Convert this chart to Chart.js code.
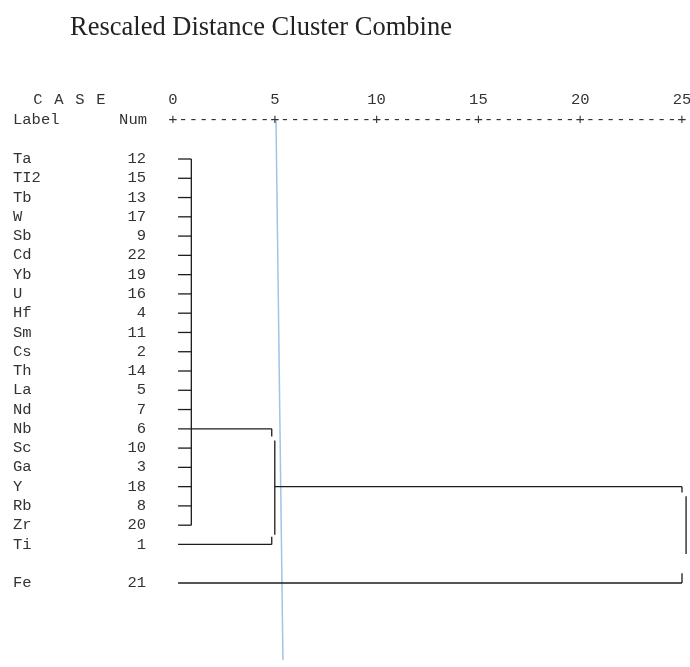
<!DOCTYPE html>
<html>
<head>
<meta charset="utf-8">
<script src="https://cdn.jsdelivr.net/npm/chart.js@4/dist/chart.umd.min.js"></script>
<style>
  html, body { margin: 0; padding: 0; background: #fff; }
  #wrap { width: 690px; height: 667px; }
</style>
</head>
<body>
<div id="wrap"><canvas id="dendro"></canvas></div>
<script>
// cases, top to bottom
const caseLabels = ["Ta", "TI2", "Tb", "W", "Sb", "Cd", "Yb", "U", "Hf", "Sm", "Cs",
  "Th", "La", "Nd", "Nb", "Sc", "Ga", "Y", "Rb", "Zr", "Ti", "Fe"];
const caseNums = [12, 15, 13, 17, 9, 22, 19, 16, 4, 11, 2, 14, 5, 7, 6, 10, 3, 18, 8, 20, 1, 21];
// row of each case (blank row before Fe)
const caseRows = [0, 1, 2, 3, 4, 5, 6, 7, 8, 9, 10, 11, 12, 13, 14, 15, 16, 17, 18, 19, 20, 22];
const distTicks = [0, 5, 10, 15, 20, 25];

// rescaled distances where clusters join
const leafStart = 0.25;
const joinDist = [0.9, 4.85, 25];   // first big cluster, + Ti, + Fe
const joinRow = [14, 17, 22];       // row the joined branch leaves from

// hand-drawn cut line (x distance, row)
const cutX = [5.06, 5.4];
const cutRow = [-2, 26];

const INK = "#1c1c1c";
const MONO = "15.5px 'Liberation Mono', 'DejaVu Sans Mono', monospace";

function seg(x1, y1, x2, y2, color, width) {
  return {
    data: [{ x: x1, y: y1 }, { x: x2, y: y2 }],
    showLine: true,
    borderColor: color || INK,
    borderWidth: width || 1.3,
    pointRadius: 0,
    clip: false
  };
}

const datasets = [];
const firstCluster = caseRows.slice(0, 20);
// leaves of the first cluster
firstCluster.forEach((r) => {
  if (r !== joinRow[0]) datasets.push(seg(leafStart, r, joinDist[0], r));
});
datasets.push(seg(joinDist[0], firstCluster[0], joinDist[0], firstCluster[firstCluster.length - 1]));

// first cluster + Ti
const tiRow = caseRows[20];
datasets.push(seg(leafStart, joinRow[0], joinDist[1], joinRow[0]));
datasets.push(seg(leafStart, tiRow, joinDist[1], tiRow));
datasets.push(seg(joinDist[1], joinRow[0], joinDist[1], joinRow[0] + 0.4));
datasets.push(seg(joinDist[1], tiRow, joinDist[1], tiRow - 0.4));
datasets.push(seg(joinDist[1] + 0.15, joinRow[0] + 0.6, joinDist[1] + 0.15, tiRow - 0.5));

// everything + Fe
const feRow = caseRows[21];
datasets.push(seg(joinDist[1] + 0.15, joinRow[1], joinDist[2], joinRow[1]));
datasets.push(seg(leafStart, feRow, joinDist[2], feRow));
datasets.push(seg(joinDist[2], joinRow[1], joinDist[2], joinRow[1] + 0.3));
datasets.push(seg(joinDist[2], feRow, joinDist[2], feRow - 0.5));
datasets.push(seg(joinDist[2] + 0.2, joinRow[1] + 0.5, joinDist[2] + 0.2, feRow - 1.5));

// cut line
datasets.push(seg(cutX[0], cutRow[0], cutX[1], cutRow[1], "#9fc4e6", 1.5));

// header, axis and case labels
const textPlugin = {
  id: "dendroText",
  afterDraw(chart) {
    const ctx = chart.ctx;
    const xs = chart.scales.x;
    const ys = chart.scales.y;
    ctx.save();
    ctx.fillStyle = "#222";

    ctx.font = "26.5px 'Liberation Serif', 'Times New Roman', serif";
    ctx.textAlign = "left";
    ctx.textBaseline = "alphabetic";
    ctx.fillText("Rescaled Distance Cluster Combine", 70, 35);

    ctx.textBaseline = "middle";
    ctx.font = MONO;
    ctx.fillStyle = "#333";
    ctx.textAlign = "center";
    ["C", "A", "S", "E"].forEach((ch, i) => ctx.fillText(ch, 38 + i * 21, 100));
    ctx.textAlign = "left";
    ctx.fillText("Label", 13, 120);
    ctx.textAlign = "right";
    ctx.fillText("Num", 147, 120);

    ctx.textAlign = "center";
    distTicks.forEach((t) => ctx.fillText(String(t), xs.getPixelForValue(t), 100));
    for (let k = 0; k <= 50; k++) {
      const v = k * 0.5;
      ctx.fillText(k % 10 === 0 ? "+" : "-", xs.getPixelForValue(v), 120);
    }

    caseLabels.forEach((lab, i) => {
      const y = ys.getPixelForValue(caseRows[i]);
      ctx.textAlign = "left";
      ctx.fillText(lab, 13, y);
      ctx.textAlign = "right";
      ctx.fillText(String(caseNums[i]), 146, y);
    });
    ctx.restore();
  }
};

new Chart(document.getElementById("dendro"), {
  type: "scatter",
  data: { datasets },
  options: {
    responsive: true,
    maintainAspectRatio: false,
    animation: false,
    layout: { padding: { left: 173, right: 8, top: 159, bottom: 84 } },
    scales: {
      x: { type: "linear", min: 0, max: 25, display: false },
      y: { type: "linear", min: 0, max: 22, reverse: true, display: false }
    },
    plugins: {
      legend: { display: false },
      tooltip: { enabled: false }
    }
  },
  plugins: [textPlugin]
});
</script>
</body>
</html>
